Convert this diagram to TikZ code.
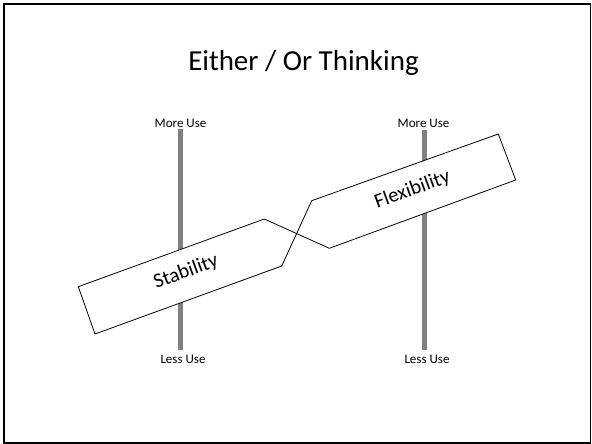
\documentclass[tikz,border=0pt]{standalone}
\usepackage{fontspec}
\setmainfont{Carlito}
\begin{document}
\begin{tikzpicture}[x=1pt,y=-1pt,
  frame/.style={draw=black,line width=1.6pt},
  bar/.style={draw=black!50,line width=5.5pt},
  axislabel/.style={font=\fontsize{13}{15}\selectfont,inner sep=0pt},
  board/.style={draw=black,fill=white,line width=0.8pt,line join=miter},
  boardtext/.style={font=\fontsize{20.5}{24}\selectfont,rotate=20,inner sep=0pt}]
\useasboundingbox (0,0) rectangle (592,444);
\draw[frame] (4,4) rectangle (590.5,443);
\node[font=\fontsize{29}{33}\selectfont,inner sep=0pt] (title) at (303.5,63) {Either / Or Thinking};
% axes
\node[axislabel] (moreL) at (180.5,123) {More Use};
\node[axislabel] (lessL) at (183,359.5) {Less Use};
\node[axislabel] (moreR) at (423.5,123) {More Use};
\node[axislabel] (lessR) at (427,359.5) {Less Use};
\coordinate (lt) at (180.7,129);
\coordinate (lb) at (180.7,350);
\coordinate (rt) at (424.5,130);
\coordinate (rb) at (424.5,350);
\draw[bar] (lt) -- (lb);
\draw[bar] (rt) -- (rb);
% twisted board
\coordinate (s1) at (78.3,286.7);
\coordinate (s2) at (264.3,219);
\coordinate (f4) at (329.3,248.3);
\coordinate (f3) at (515.7,180);
\coordinate (f2) at (498.3,134);
\coordinate (f1) at (311.7,200.7);
\coordinate (s3) at (281.7,266);
\coordinate (s4) at (95,334);
\draw[board] (s1) -- (s2) -- (f4) -- (f3) -- (f2) -- (f1) -- (s3) -- (s4) -- cycle;
\node[boardtext] (stab) at (186,272) {Stability};
\node[boardtext] (flex) at (412.5,190) {Flexibility};
\end{tikzpicture}
\end{document}
